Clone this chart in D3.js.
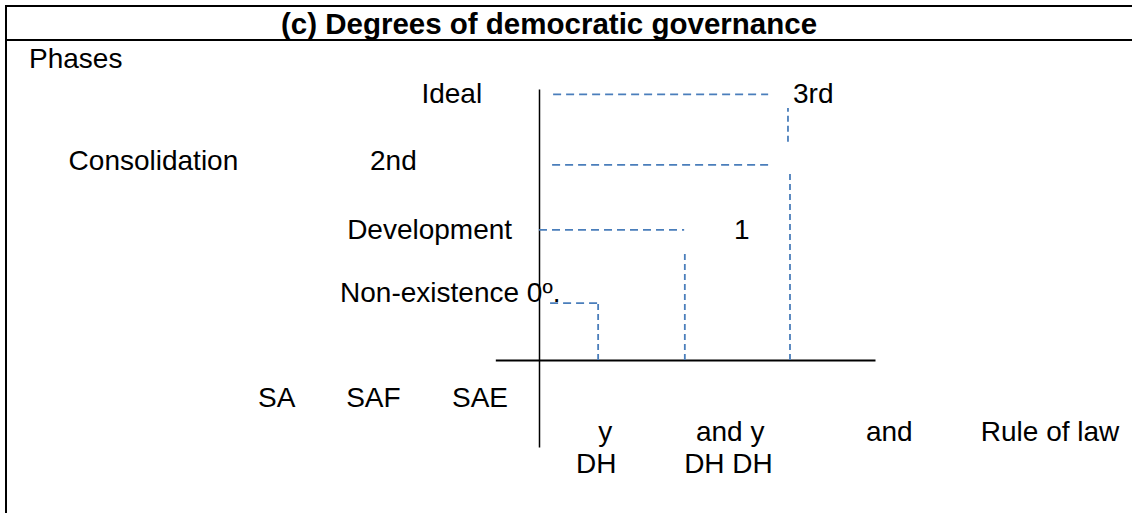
<!DOCTYPE html>
<html>
<head>
<meta charset="utf-8">
<script src="https://cdn.jsdelivr.net/npm/d3@7"></script>
<style>
  html, body { margin: 0; padding: 0; background: #fff; }
  svg { display: block; font-family: Arial, "Liberation Sans", sans-serif; }
</style>
</head>
<body>
<svg id="chart" width="1132" height="513"></svg>
<script>
/* ---- data (axis units: x 0..100 along the base, y 0..100 up the axis) ---- */
const title = "(c) Degrees of democratic governance";
const axisName = "Phases";

// phase names on the left of the vertical axis
const phaseLabels = ["Ideal", "2nd", "Consolidation", "Development", "Non-existence 0º."];
const phaseX      = [-35, -50.3, -140, -57.1, -59.2];
const phaseY      = [94.8, 70, 70, 44.6, 21.4];

// degree marks at the right end of the steps
const degreeLabels = ["3rd", "1"];
const degreeX      = [75.6, 58];
const degreeY      = [94.8, 44.6];

// regime labels left of the vertical axis, below the base
const regimeLabels = ["SA", "SAF", "SAE"];
const regimeX      = [-83.6, -57.4, -25.9];
const regimeY      = -17.3;

// outcome labels under the base
const outcomeTop     = ["y", "and y", "and", "Rule of law"];
const outcomeTopX    = [17.6, 46.7, 97.3, 131.5];
const outcomeBottom  = ["DH", "DH DH"];
const outcomeBottomX = [11, 43.2];
const outcomeY       = [-29.9, -41.7];

// dashed staircase: horizontal treads and vertical risers
const treadLevel = [98, 72, 48, 21];
const treadFrom  = [4.2, 3.9, 0, 3.3];
const treadTo    = [68.2, 68.2, 43.2, 17.6];
const riserX     = [17.6, 43.4, 74.7, 74.1];
const riserFrom  = [0, 0, 0, 80.5];
const riserTo    = [21, 39.5, 69.4, 93];

// axis extents
const baseExtent = [-13, 100];
const axisExtent = [-32.1, 100];

/* ---- scales ---------------------------------------------------- */
const svg = d3.select("#chart");
const x = d3.scaleLinear([0, 100], [539, 875]);
const y = d3.scaleLinear([0, 100], [360, 89]);

const blue = "#4a7ebb";
const fontSize = 28;

/* ---- frame: outer box and title row --------------------------- */
const frame = svg.append("g").attr("stroke", "#000").attr("stroke-width", 2);
frame.append("line").attr("x1", 6).attr("x2", 1132).attr("y1", 6).attr("y2", 6);
frame.append("line").attr("x1", 6).attr("x2", 1132).attr("y1", 40).attr("y2", 40);
frame.append("line").attr("x1", 6).attr("x2", 6).attr("y1", 5).attr("y2", 513);

svg.append("text")
  .attr("x", 549).attr("y", 34)
  .attr("text-anchor", "middle")
  .attr("font-weight", "bold")
  .attr("font-size", 29.5)
  .text(title);

svg.append("text")
  .attr("x", 29).attr("y", 68)
  .attr("font-size", fontSize)
  .text(axisName);

/* ---- axes (domain lines only) --------------------------------- */
const xa = x.copy().domain(baseExtent).range(baseExtent.map(x));
svg.append("g")
  .attr("transform", `translate(0,${y(0)})`)
  .call(d3.axisBottom(xa).tickValues([]).tickSizeOuter(0))
  .select(".domain").attr("stroke", "#000").attr("stroke-width", 1.8);

const ya = y.copy().domain(axisExtent).range(axisExtent.map(y));
svg.append("g")
  .attr("transform", `translate(${x(0)},0)`)
  .call(d3.axisLeft(ya).tickValues([]).tickSizeOuter(0))
  .select(".domain").attr("stroke", "#000").attr("stroke-width", 1.5);

/* ---- dashed staircase ----------------------------------------- */
const dash = svg.append("g")
  .attr("stroke", blue)
  .attr("stroke-width", 1.8)
  .attr("fill", "none");

dash.selectAll("line.tread")
  .data(treadLevel)
  .join("line")
    .attr("class", "tread")
    .attr("x1", (d, i) => x(treadFrom[i]))
    .attr("x2", (d, i) => x(treadTo[i]))
    .attr("y1", d => y(d))
    .attr("y2", d => y(d))
    .attr("stroke-dasharray", "8,5");

dash.selectAll("line.riser")
  .data(riserX)
  .join("line")
    .attr("class", "riser")
    .attr("x1", d => x(d))
    .attr("x2", d => x(d))
    .attr("y1", (d, i) => y(riserFrom[i]))
    .attr("y2", (d, i) => y(riserTo[i]))
    .attr("stroke-dasharray", "6,4");

/* ---- labels --------------------------------------------------- */
function labels(texts, xs, ys) {
  svg.append("g")
    .attr("font-size", fontSize)
    .selectAll("text")
    .data(texts)
    .join("text")
      .attr("x", (d, i) => x(xs[i]))
      .attr("y", (d, i) => y(Array.isArray(ys) ? ys[i] : ys))
      .text(d => d);
}

labels(phaseLabels, phaseX, phaseY);
labels(degreeLabels, degreeX, degreeY);
labels(regimeLabels, regimeX, regimeY);
labels(outcomeTop, outcomeTopX, outcomeY[0]);
labels(outcomeBottom, outcomeBottomX, outcomeY[1]);
</script>
</body>
</html>
